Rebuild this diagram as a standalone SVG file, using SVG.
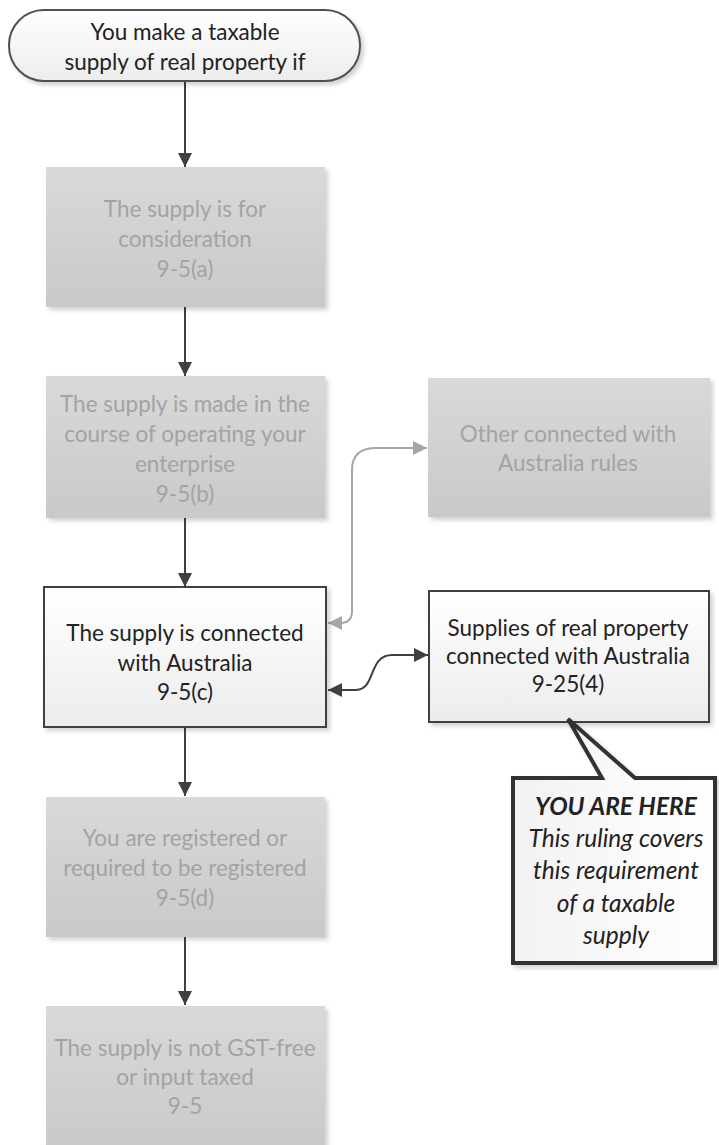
<svg xmlns="http://www.w3.org/2000/svg" width="719" height="1145" viewBox="0 0 719 1145">
<defs>
<linearGradient id="gGray" x1="0" y1="0" x2="0" y2="1"><stop offset="0" stop-color="#d9d9d9"/><stop offset="1" stop-color="#c9c9c9"/></linearGradient>
<linearGradient id="gWhite" x1="0" y1="0" x2="0" y2="1"><stop offset="0" stop-color="#ffffff"/><stop offset="1" stop-color="#ececec"/></linearGradient>
<linearGradient id="gCall" x1="0" y1="0" x2="1" y2="0"><stop offset="0" stop-color="#f2f2f2"/><stop offset="1" stop-color="#ffffff"/></linearGradient>
<filter id="sh" x="-10%" y="-10%" width="125%" height="125%"><feDropShadow dx="3" dy="3" stdDeviation="2" flood-color="#000" flood-opacity="0.18"/></filter>
<marker id="aDk" viewBox="0 0 10 10" refX="10" refY="5" markerWidth="14" markerHeight="14" orient="auto-start-reverse" markerUnits="userSpaceOnUse"><path d="M0,0 L10,5 L0,10 z" fill="#404040"/></marker>
<marker id="aG" viewBox="0 0 10 10" refX="10" refY="5" markerWidth="14" markerHeight="14" orient="auto-start-reverse" markerUnits="userSpaceOnUse"><path d="M0,0 L10,5 L0,10 z" fill="#a6a6a6"/></marker>
<style>
text{font-family:Lato,"Liberation Sans",sans-serif;font-size:22.5px;text-anchor:middle;dominant-baseline:central}
.dim{fill:#a3a3a3}
.dark{fill:#222222}
.gbox{fill:url(#gGray);filter:url(#sh)}
.wbox{fill:url(#gWhite);stroke:#404040;stroke-width:2;filter:url(#sh)}
.conn{fill:none;stroke:#404040;stroke-width:2}
.connG{fill:none;stroke:#a6a6a6;stroke-width:2}
.call{font-style:italic;fill:#222;font-size:24.5px}
</style>
</defs>

<g id="connectors">
<path class="conn" d="M185,82 V167" marker-end="url(#aDk)"/>
<path class="conn" d="M185,307 V376" marker-end="url(#aDk)"/>
<path class="conn" d="M185,518 V587" marker-end="url(#aDk)"/>
<path class="conn" d="M185,727 V796" marker-end="url(#aDk)"/>
<path class="conn" d="M185,937 V1005" marker-end="url(#aDk)"/>
<path class="connG" d="M328,623 L340,623 Q352,623 352,611 L352,470 Q352,448 376,448 L427,448" marker-start="url(#aG)" marker-end="url(#aG)"/>
<path class="conn" d="M328,690 L356,690 C376,690 368,655 392,655 L428,655" marker-start="url(#aDk)" marker-end="url(#aDk)"/>
</g>

<g id="start">
<rect x="9" y="10" width="351" height="71" rx="35" ry="35" fill="url(#gWhite)" stroke="#505050" stroke-width="2" filter="url(#sh)"/>
<text x="185" y="31" class="dark">You make a taxable</text>
<text x="185" y="61" class="dark">supply of real property if</text>
</g>

<g id="n-consideration">
<rect class="gbox" x="46" y="167" width="279" height="140"/>
<text class="dim" x="185" y="208">The supply is for</text>
<text class="dim" x="185" y="238">consideration</text>
<text class="dim" x="185" y="268">9-5(a)</text>
</g>

<g id="n-enterprise">
<rect class="gbox" x="46" y="376" width="279" height="142"/>
<text class="dim" x="185" y="403">The supply is made in the</text>
<text class="dim" x="185" y="433">course of operating your</text>
<text class="dim" x="185" y="463">enterprise</text>
<text class="dim" x="185" y="493">9-5(b)</text>
</g>

<g id="n-connected">
<rect class="wbox" x="44" y="587" width="282" height="140"/>
<text class="dark" x="185" y="632">The supply is connected</text>
<text class="dark" x="185" y="662">with Australia</text>
<text class="dark" x="185" y="691">9-5(c)</text>
</g>

<g id="n-registered">
<rect class="gbox" x="46" y="797" width="279" height="140"/>
<text class="dim" x="185" y="837">You are registered or</text>
<text class="dim" x="185" y="867">required to be registered</text>
<text class="dim" x="185" y="897">9-5(d)</text>
</g>

<g id="n-gstfree">
<rect class="gbox" x="46" y="1006" width="279" height="145"/>
<text class="dim" x="185" y="1047">The supply is not GST-free</text>
<text class="dim" x="185" y="1076">or input taxed</text>
<text class="dim" x="185" y="1105">9-5</text>
</g>

<g id="n-other">
<rect class="gbox" x="428" y="378" width="282" height="139"/>
<text class="dim" x="568" y="433">Other connected with</text>
<text class="dim" x="568" y="462">Australia rules</text>
</g>

<g id="n-realprop">
<rect class="wbox" x="429" y="591" width="280" height="131"/>
<text class="dark" x="568" y="627">Supplies of real property</text>
<text class="dark" x="568" y="655">connected with Australia</text>
<text class="dark" x="568" y="683">9-25(4)</text>
</g>

<g id="callout">
<path d="M513,778 L602,778 L568,719 L635,778 L715,778 L715,963 L513,963 Z" fill="url(#gCall)" stroke="#333" stroke-width="4" stroke-linejoin="miter" filter="url(#sh)"/>
<text class="call" x="616" y="805" font-weight="bold">YOU ARE HERE</text>
<text class="call" x="616" y="837">This ruling covers</text>
<text class="call" x="616" y="869">this requirement</text>
<text class="call" x="616" y="902">of a taxable</text>
<text class="call" x="616" y="934">supply</text>
</g>
</svg>
